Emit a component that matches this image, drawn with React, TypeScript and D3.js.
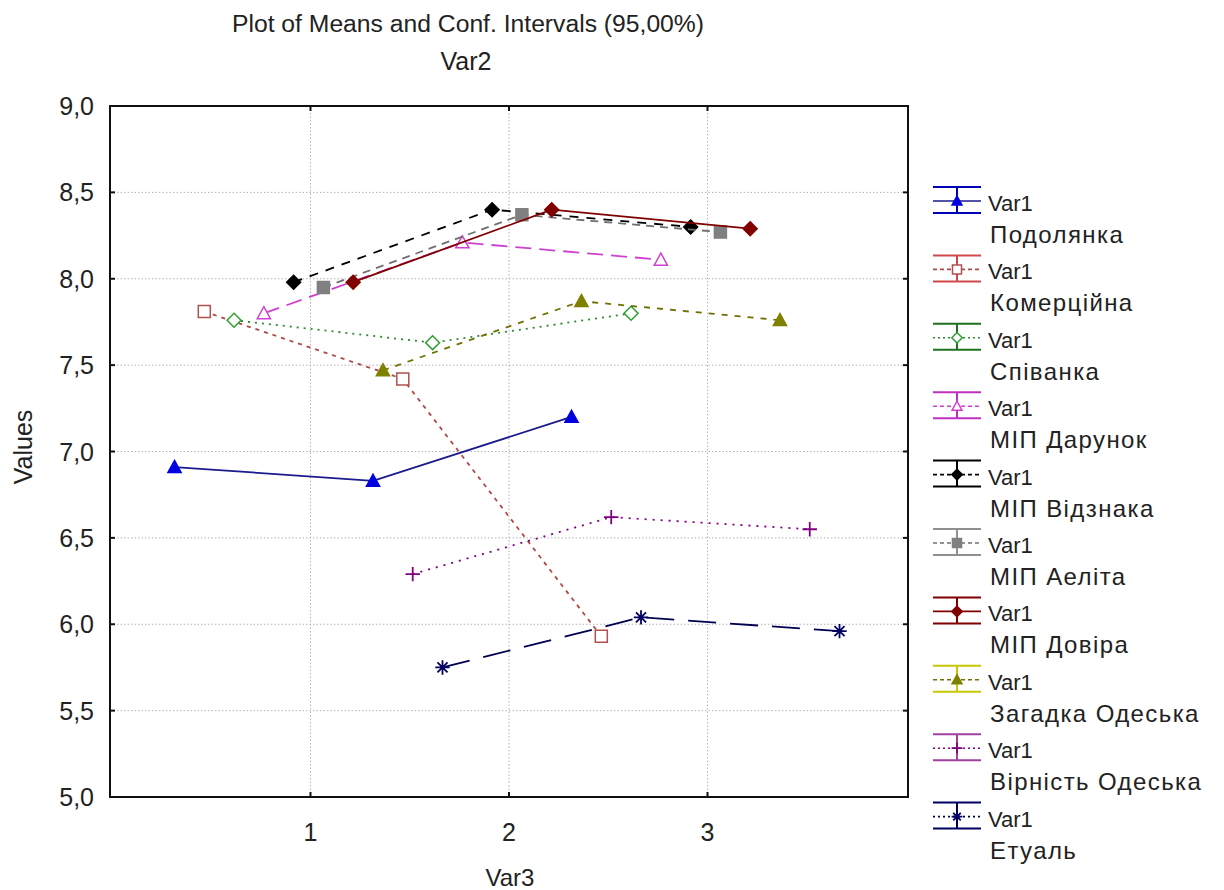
import React from 'react';
import * as d3 from 'd3';

// Var3 levels and the means, one array per Var2 group
const levels = [1, 2, 3];
const groupNames = [
  'Подолянка',
  'Комерційна',
  'Співанка',
  'МІП Дарунок',
  'МІП Відзнака',
  'МІП Аеліта',
  'МІП Довіра',
  'Загадка Одеська',
  'Вірність Одеська',
  'Етуаль',
];
const podolyanka = [6.91, 6.83, 7.2];
const komertsiyna = [7.81, 7.42, 5.93];
const spivanka = [7.76, 7.63, 7.8];
const darunok = [7.8, 8.21, 8.11];
const vidznaka = [7.98, 8.4, 8.3];
const aelita = [7.95, 8.37, 8.27];
const dovira = [7.98, 8.4, 8.29];
const zagadka = [7.47, 7.87, 7.76];
const virnist = [6.29, 6.62, 6.55];
const etual = [5.75, 6.04, 5.96];
const seriesValues = [podolyanka, komertsiyna, spivanka, darunok, vidznaka, aelita, dovira, zagadka, virnist, etual];

const yTicks = [5, 5.5, 6, 6.5, 7, 7.5, 8, 8.5, 9];
const xTicks = [1, 2, 3];

type Style = { line: string; mark: string; legend: string; dash: string; shape: string; filled: boolean };
const styles: Style[] = [
  { line: '#1a1a8c', mark: '#0000e0', legend: '#0000b0', dash: '', shape: 'tri', filled: true },
  { line: '#b04848', mark: '#b05050', legend: '#d04848', dash: '4,5', shape: 'sq', filled: false },
  { line: '#2e8a2e', mark: '#30a030', legend: '#207020', dash: '2,5', shape: 'dia', filled: false },
  { line: '#d040d0', mark: '#d040d0', legend: '#c030c0', dash: '16,8', shape: 'tri', filled: false },
  { line: '#000000', mark: '#000000', legend: '#000000', dash: '9,8', shape: 'dia', filled: true },
  { line: '#707070', mark: '#808080', legend: '#909090', dash: '8,6', shape: 'sq', filled: true },
  { line: '#800000', mark: '#800000', legend: '#800000', dash: '', shape: 'dia', filled: true },
  { line: '#707000', mark: '#808000', legend: '#c8c800', dash: '6,7', shape: 'tri', filled: true },
  { line: '#800080', mark: '#800080', legend: '#a040a0', dash: '2,6', shape: 'plus', filled: false },
  { line: '#000050', mark: '#000060', legend: '#000060', dash: '28,14', shape: 'star', filled: false },
];

const W = 1224;
const H = 890;
const left = 110;
const right = 908;
const top = 106;
const bottom = 797;
const font = 'Liberation Sans, Arial, sans-serif';

const markerPath = (shape: string, s: number) => {
  if (shape === 'tri') return `M0,${-s * 0.55}L${s * 0.55},${s * 0.45}L${-s * 0.55},${s * 0.45}Z`;
  if (shape === 'sq') return `M${-s / 2},${-s / 2}h${s}v${s}h${-s}Z`;
  if (shape === 'dia') return `M0,${-s * 0.58}L${s * 0.58},0L0,${s * 0.58}L${-s * 0.58},0Z`;
  if (shape === 'plus') return `M${-s * 0.6},0H${s * 0.6}M0,${-s * 0.6}V${s * 0.6}`;
  const r = s * 0.6;
  const d = r * 0.7;
  return `M${-r},0H${r}M0,${-r}V${r}M${-d},${-d}L${d},${d}M${-d},${d}L${d},${-d}`;
};

const Marker = ({ st, x, y, size }: { st: Style; x: number; y: number; size: number }) => {
  const open = st.shape === 'plus' || st.shape === 'star';
  return (
    <path
      d={markerPath(st.shape, size)}
      transform={`translate(${x},${y})`}
      fill={open ? 'none' : st.filled ? st.mark : '#fff'}
      stroke={st.mark}
      strokeWidth={open ? 1.8 : 1.5}
    />
  );
};

export default function App() {
  const x = d3.scaleLinear().domain([-0.01, 4.01]).range([left, right]);
  const y = d3.scaleLinear().domain([5, 9]).range([bottom, top]);
  // horizontal shift of each group so the points do not overlap
  const offset = d3.scaleLinear().domain([0, groupNames.length - 1]).range([-0.685, 0.665]);
  const line = d3.line<[number, number]>().x(d => x(d[0])).y(d => y(d[1]));

  const legendY = d3.scaleLinear().domain([0, 9]).range([201, 201 + 68.4 * 9]);

  return (
    <svg width={W} height={H} style={{ position: 'absolute', left: 0, top: 0, background: '#fff' }} fontFamily={font}>
      <rect width={W} height={H} fill="#fff" />
      <text x={468} y={32} fontSize={24.7} textAnchor="middle" fill="#222">Plot of Means and Conf. Intervals (95,00%)</text>
      <text x={466} y={70} fontSize={25} textAnchor="middle" fill="#222">Var2</text>

      {/* grid */}
      {yTicks.slice(1, -1).map(t => (
        <line key={'gy' + t} x1={left} x2={right} y1={y(t)} y2={y(t)} stroke="#b4b4b4" strokeDasharray="1.5,2" />
      ))}
      {xTicks.map(t => (
        <line key={'gx' + t} x1={x(t)} x2={x(t)} y1={top} y2={bottom} stroke="#b4b4b4" strokeDasharray="1.5,2" />
      ))}

      {/* series */}
      {seriesValues.map((vals, i) => {
        const pts: [number, number][] = vals.map((v, j) => [levels[j] + offset(i), v]);
        const st = styles[i];
        return (
          <g key={'s' + i}>
            <path d={line(pts) || ''} fill="none" stroke={st.line} strokeWidth={1.8} strokeDasharray={st.dash || undefined} />
            {pts.map((p, j) => (
              <Marker key={j} st={st} x={x(p[0])} y={y(p[1])} size={12} />
            ))}
          </g>
        );
      })}

      {/* frame + ticks */}
      <rect x={left} y={top} width={right - left} height={bottom - top} fill="none" stroke="#111" strokeWidth={2} />
      {yTicks.slice(1, -1).map(t => (
        <g key={'ty' + t}>
          <line x1={left} x2={left + 5} y1={y(t)} y2={y(t)} stroke="#111" strokeWidth={2} />
          <line x1={right} x2={right - 5} y1={y(t)} y2={y(t)} stroke="#111" strokeWidth={2} />
        </g>
      ))}
      {xTicks.map(t => (
        <g key={'tx' + t}>
          <line x1={x(t)} x2={x(t)} y1={bottom} y2={bottom - 5} stroke="#111" strokeWidth={2} />
          <line x1={x(t)} x2={x(t)} y1={top} y2={top + 5} stroke="#111" strokeWidth={2} />
        </g>
      ))}
      {yTicks.map(t => (
        <text key={'ly' + t} x={94} y={y(t) + 9} fontSize={25} textAnchor="end" fill="#222">
          {d3.format('.1f')(t).replace('.', ',')}
        </text>
      ))}
      {xTicks.map(t => (
        <text key={'lx' + t} x={x(t)} y={841} fontSize={25} textAnchor="middle" fill="#222">{t}</text>
      ))}
      <text x={510} y={886} fontSize={24} textAnchor="middle" fill="#222">Var3</text>
      <text transform="translate(32,447) rotate(-90)" fontSize={25} textAnchor="middle" fill="#222">Values</text>

      {/* legend */}
      {groupNames.map((name, i) => {
        const cy = legendY(i);
        const st = styles[i];
        return (
          <g key={'lg' + i}>
            <line x1={933} x2={981} y1={cy - 14} y2={cy - 14} stroke={st.legend} strokeWidth={2} />
            <line x1={933} x2={981} y1={cy + 12} y2={cy + 12} stroke={st.legend} strokeWidth={2} />
            <line x1={957} x2={957} y1={cy - 14} y2={cy + 12} stroke={st.legend} strokeWidth={2} />
            <line x1={933} x2={981} y1={cy} y2={cy} stroke={st.line} strokeWidth={1.6}
              strokeDasharray={st.dash ? (st.dash.startsWith('2') ? '2,3' : '4,3') : undefined} />
            <Marker st={st} x={957} y={cy} size={9} />
            <text x={988} y={cy + 10} fontSize={22} fill="#222">Var1</text>
            <text x={990} y={cy + 42} fontSize={24} letterSpacing={1.4} fill="#222">{name}</text>
          </g>
        );
      })}
    </svg>
  );
}
